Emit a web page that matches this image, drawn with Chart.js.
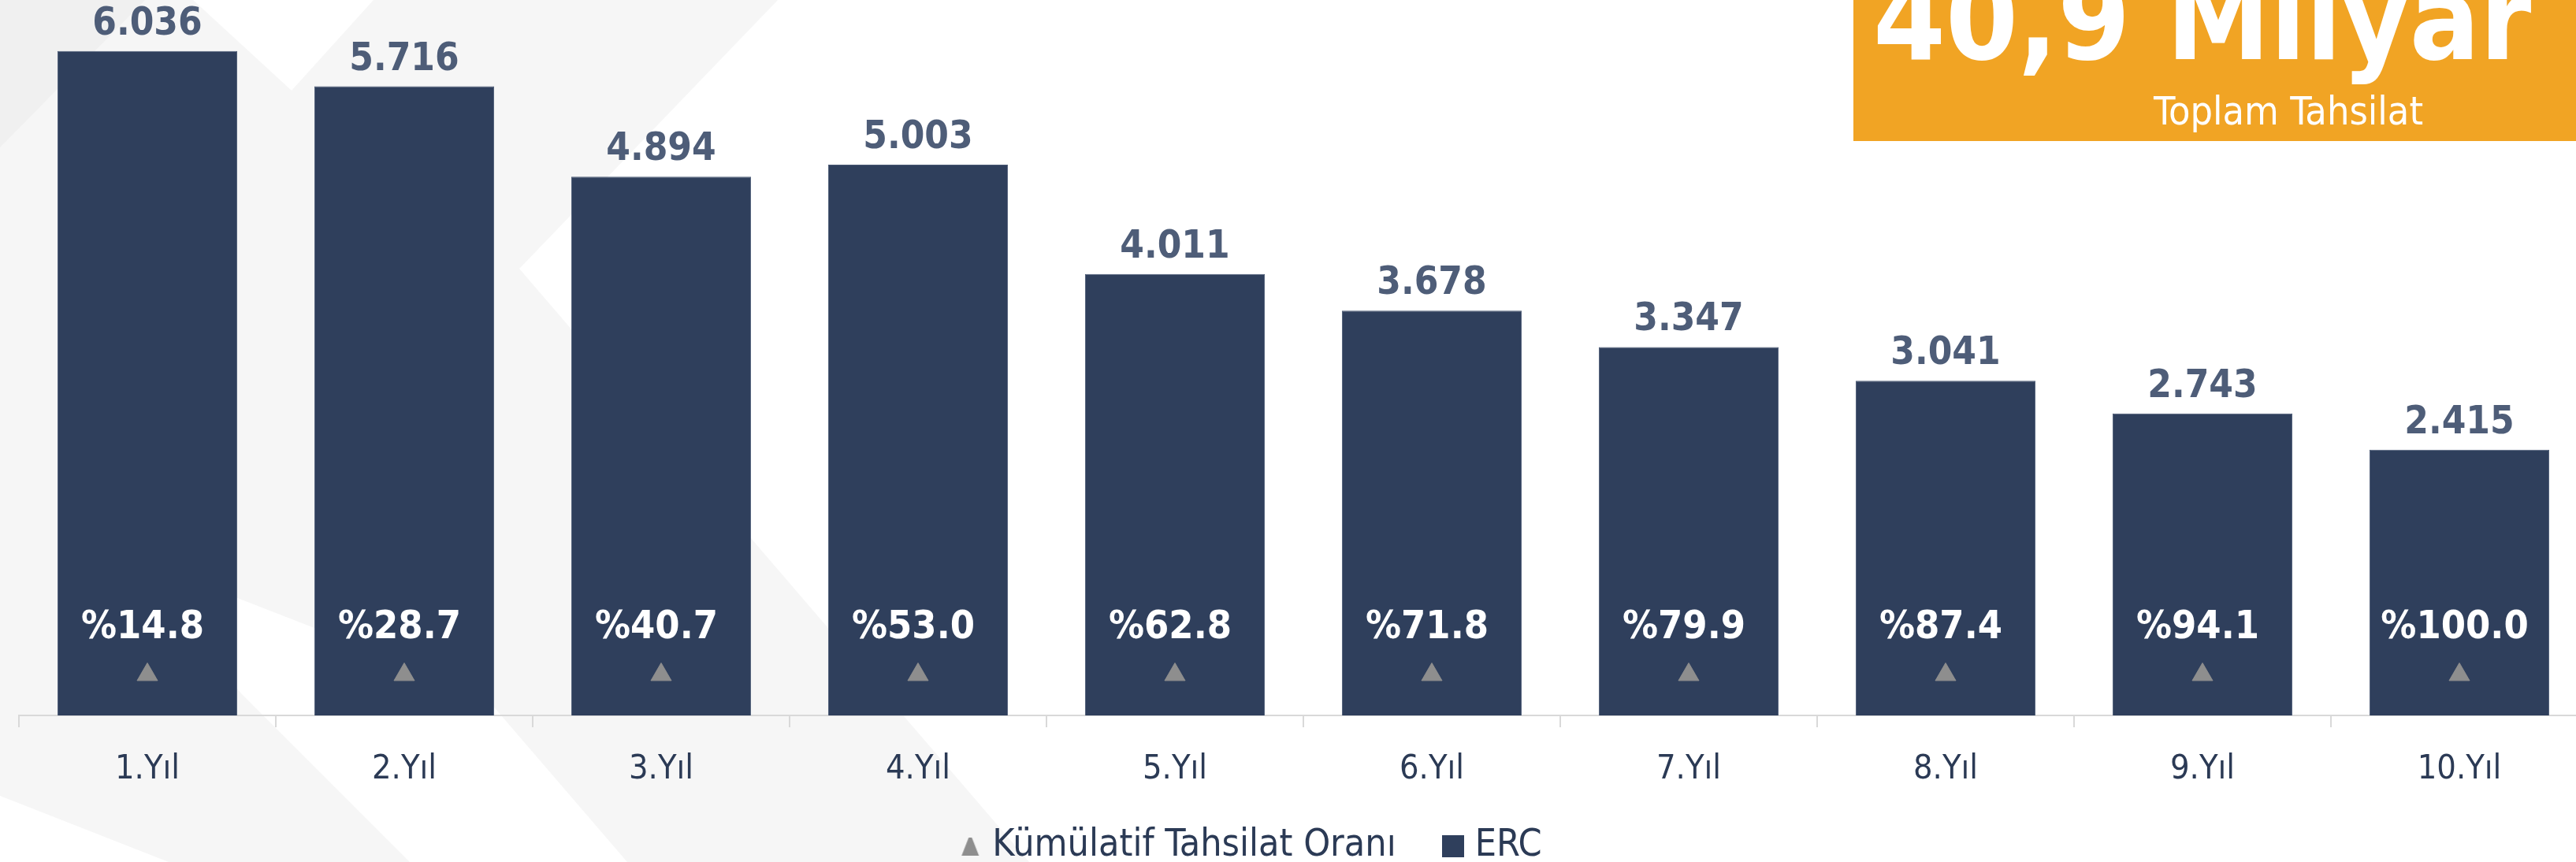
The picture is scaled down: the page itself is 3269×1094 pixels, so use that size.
<!DOCTYPE html>
<html lang="tr">
<head>
<meta charset="utf-8">
<title>ERC - Kümülatif Tahsilat</title>
<script src="https://cdn.jsdelivr.net/npm/chart.js@4.4.1/dist/chart.umd.min.js"></script>
<style>
  html, body { margin: 0; padding: 0; background: #fff; overflow: hidden; }
  #wrap { width: 3269px; height: 1094px; overflow: hidden; }
  canvas { display: block; }
</style>
</head>
<body>
<div id="wrap"><canvas id="ercChart" width="3300" height="1094"></canvas></div>
<script>
const years = ['1.Yıl', '2.Yıl', '3.Yıl', '4.Yıl', '5.Yıl', '6.Yıl', '7.Yıl', '8.Yıl', '9.Yıl', '10.Yıl'];
const ercValues = [6036, 5716, 4894, 5003, 4011, 3678, 3347, 3041, 2743, 2415];
const cumulativeRates = [14.8, 28.7, 40.7, 53.0, 62.8, 71.8, 79.9, 87.4, 94.1, 100.0];
// triangles sit at the same height in every column
const markerLevel = [370, 370, 370, 370, 370, 370, 370, 370, 370, 370];
const totalCollection = '40,9 Milyar';
const totalCaption = 'Toplam Tahsilat';

const FONT = "'DejaVu Sans Condensed', 'DejaVu Sans', sans-serif";
const NAVY = '#2f3f5c';
const GREY = '#8e8e8e';
const TEXT = '#2b3a55';

function formatThousands(v) {
  return String(v).replace(/\B(?=(\d{3})+(?!\d))/g, '.');
}

// small canvases used as legend symbols
function legendSymbol(kind) {
  const c = document.createElement('canvas');
  c.width = 28; c.height = 28;
  const g = c.getContext('2d');
  if (kind === 'triangle') {
    g.fillStyle = GREY;
    g.beginPath();
    g.moveTo(12, 3); g.lineTo(16, 3); g.lineTo(25, 26); g.lineTo(3, 26);
    g.closePath();
    g.fill();
  } else {
    g.fillStyle = NAVY;
    g.fillRect(0, 0, 28, 28);
  }
  return c;
}

// light grey diagonal shapes behind the chart
const backdrop = {
  id: 'backdrop',
  beforeDraw(chart) {
    const ctx = chart.ctx;
    const poly = (color, pts) => {
      ctx.fillStyle = color;
      ctx.beginPath();
      ctx.moveTo(pts[0][0], pts[0][1]);
      for (let i = 1; i < pts.length; i++) ctx.lineTo(pts[i][0], pts[i][1]);
      ctx.closePath();
      ctx.fill();
    };
    ctx.save();
    ctx.fillStyle = '#ffffff';
    ctx.fillRect(0, 0, chart.width, chart.height);
    poly('#f6f6f6', [[0, 0], [987, 0], [659, 341], [1306, 1094], [0, 1094]]);
    poly('#ffffff', [[245, 0], [474, 0], [370, 115]]);
    poly('#ffffff', [[150, 700], [612, 880], [796, 1094], [520, 1094], [306, 880]]);
    poly('#ffffff', [[0, 1010], [214, 1094], [0, 1094]]);
    poly('#f0f0f0', [[0, 0], [184, 0], [0, 187]]);
    ctx.restore();
  }
};

const valueLabels = {
  id: 'valueLabels',
  afterDatasetsDraw(chart) {
    const ctx = chart.ctx;
    const bars = chart.getDatasetMeta(1).data;
    ctx.save();
    ctx.textAlign = 'center';
    ctx.textBaseline = 'alphabetic';
    ctx.font = 'bold 49px ' + FONT;
    ctx.fillStyle = '#4e5d78';
    bars.forEach((bar, i) => {
      ctx.fillText(formatThousands(ercValues[i]), bar.x, bar.y - 21);
    });
    ctx.font = 'bold 50px ' + FONT;
    ctx.fillStyle = '#ffffff';
    chart.getDatasetMeta(0).data.forEach((pt, i) => {
      ctx.fillText('%' + cumulativeRates[i].toFixed(1), bars[i].x - 6, pt.y - 46);
    });
    ctx.restore();
  }
};

// nudge legend into place and let the x labels use the room below the axis
const layoutTweak = {
  id: 'layoutTweak',
  afterLayout(chart) {
    const lg = chart.legend;
    if (lg) {
      lg.left -= 62; lg.right -= 62;
      lg.top += 14; lg.bottom += 14;
    }
    const x = chart.scales.x;
    x.bottom += 42;
    x.height += 42;
  }
};

const totalBanner = {
  id: 'totalBanner',
  afterDraw(chart) {
    const ctx = chart.ctx;
    ctx.save();
    ctx.fillStyle = '#f1a424';
    ctx.fillRect(2352, 0, chart.width - 2352, 179);
    ctx.fillStyle = '#ffffff';
    ctx.textBaseline = 'alphabetic';
    ctx.textAlign = 'left';
    ctx.font = 'bold 100px ' + FONT;
    const size = 100 * 835 / ctx.measureText(totalCollection).width;
    ctx.font = 'bold ' + size.toFixed(1) + 'px ' + FONT;
    ctx.fillText(totalCollection, 2377, 75);
    ctx.textAlign = 'center';
    ctx.font = '50px ' + FONT;
    ctx.fillText(totalCaption, 2904, 158);
    ctx.restore();
  }
};

const ctx = document.getElementById('ercChart').getContext('2d');
const ercChart = new Chart(ctx, {
  type: 'bar',
  data: {
    labels: years,
    datasets: [
      {
        type: 'line',
        label: 'Kümülatif Tahsilat Oranı',
        data: markerLevel,
        showLine: false,
        pointStyle: 'triangle',
        pointRadius: 15,
        pointBackgroundColor: GREY,
        pointBorderColor: GREY,
        pointBorderWidth: 1,
        backgroundColor: GREY,
        borderColor: GREY,
        order: 0
      },
      {
        label: 'ERC',
        data: ercValues,
        backgroundColor: NAVY,
        borderColor: '#4a5974',
        borderWidth: 1,
        categoryPercentage: 0.7,
        barPercentage: 1,
        order: 1
      }
    ]
  },
  options: {
    responsive: false,
    animation: false,
    layout: { autoPadding: false, padding: { left: 24, right: 16, top: 0, bottom: 0 } },
    scales: {
      x: {
        grid: { drawOnChartArea: false, drawTicks: true, tickLength: 15, color: '#d9d9d9', lineWidth: 2, offset: true },
        border: { color: '#d9d9d9', width: 2 },
        ticks: { color: TEXT, font: { family: FONT, size: 43 }, padding: 28 },
        afterFit: s => { s.height = 60; }
      },
      y: { display: false, min: 0, max: 6500 }
    },
    plugins: {
      legend: {
        position: 'bottom',
        labels: {
          usePointStyle: true,
          boxWidth: 8,
          boxHeight: 28,
          padding: 68,
          color: TEXT,
          font: { family: FONT, size: 48 },
          generateLabels: chart => {
            const items = Chart.defaults.plugins.legend.labels.generateLabels(chart);
            items[0].pointStyle = legendSymbol('triangle');
            items[1].pointStyle = legendSymbol('rect');
            items.forEach(it => { it.lineWidth = 0; });
            return items;
          }
        }
      },
      tooltip: { enabled: false }
    }
  },
  plugins: [backdrop, valueLabels, layoutTweak, totalBanner]
});
</script>
</body>
</html>
